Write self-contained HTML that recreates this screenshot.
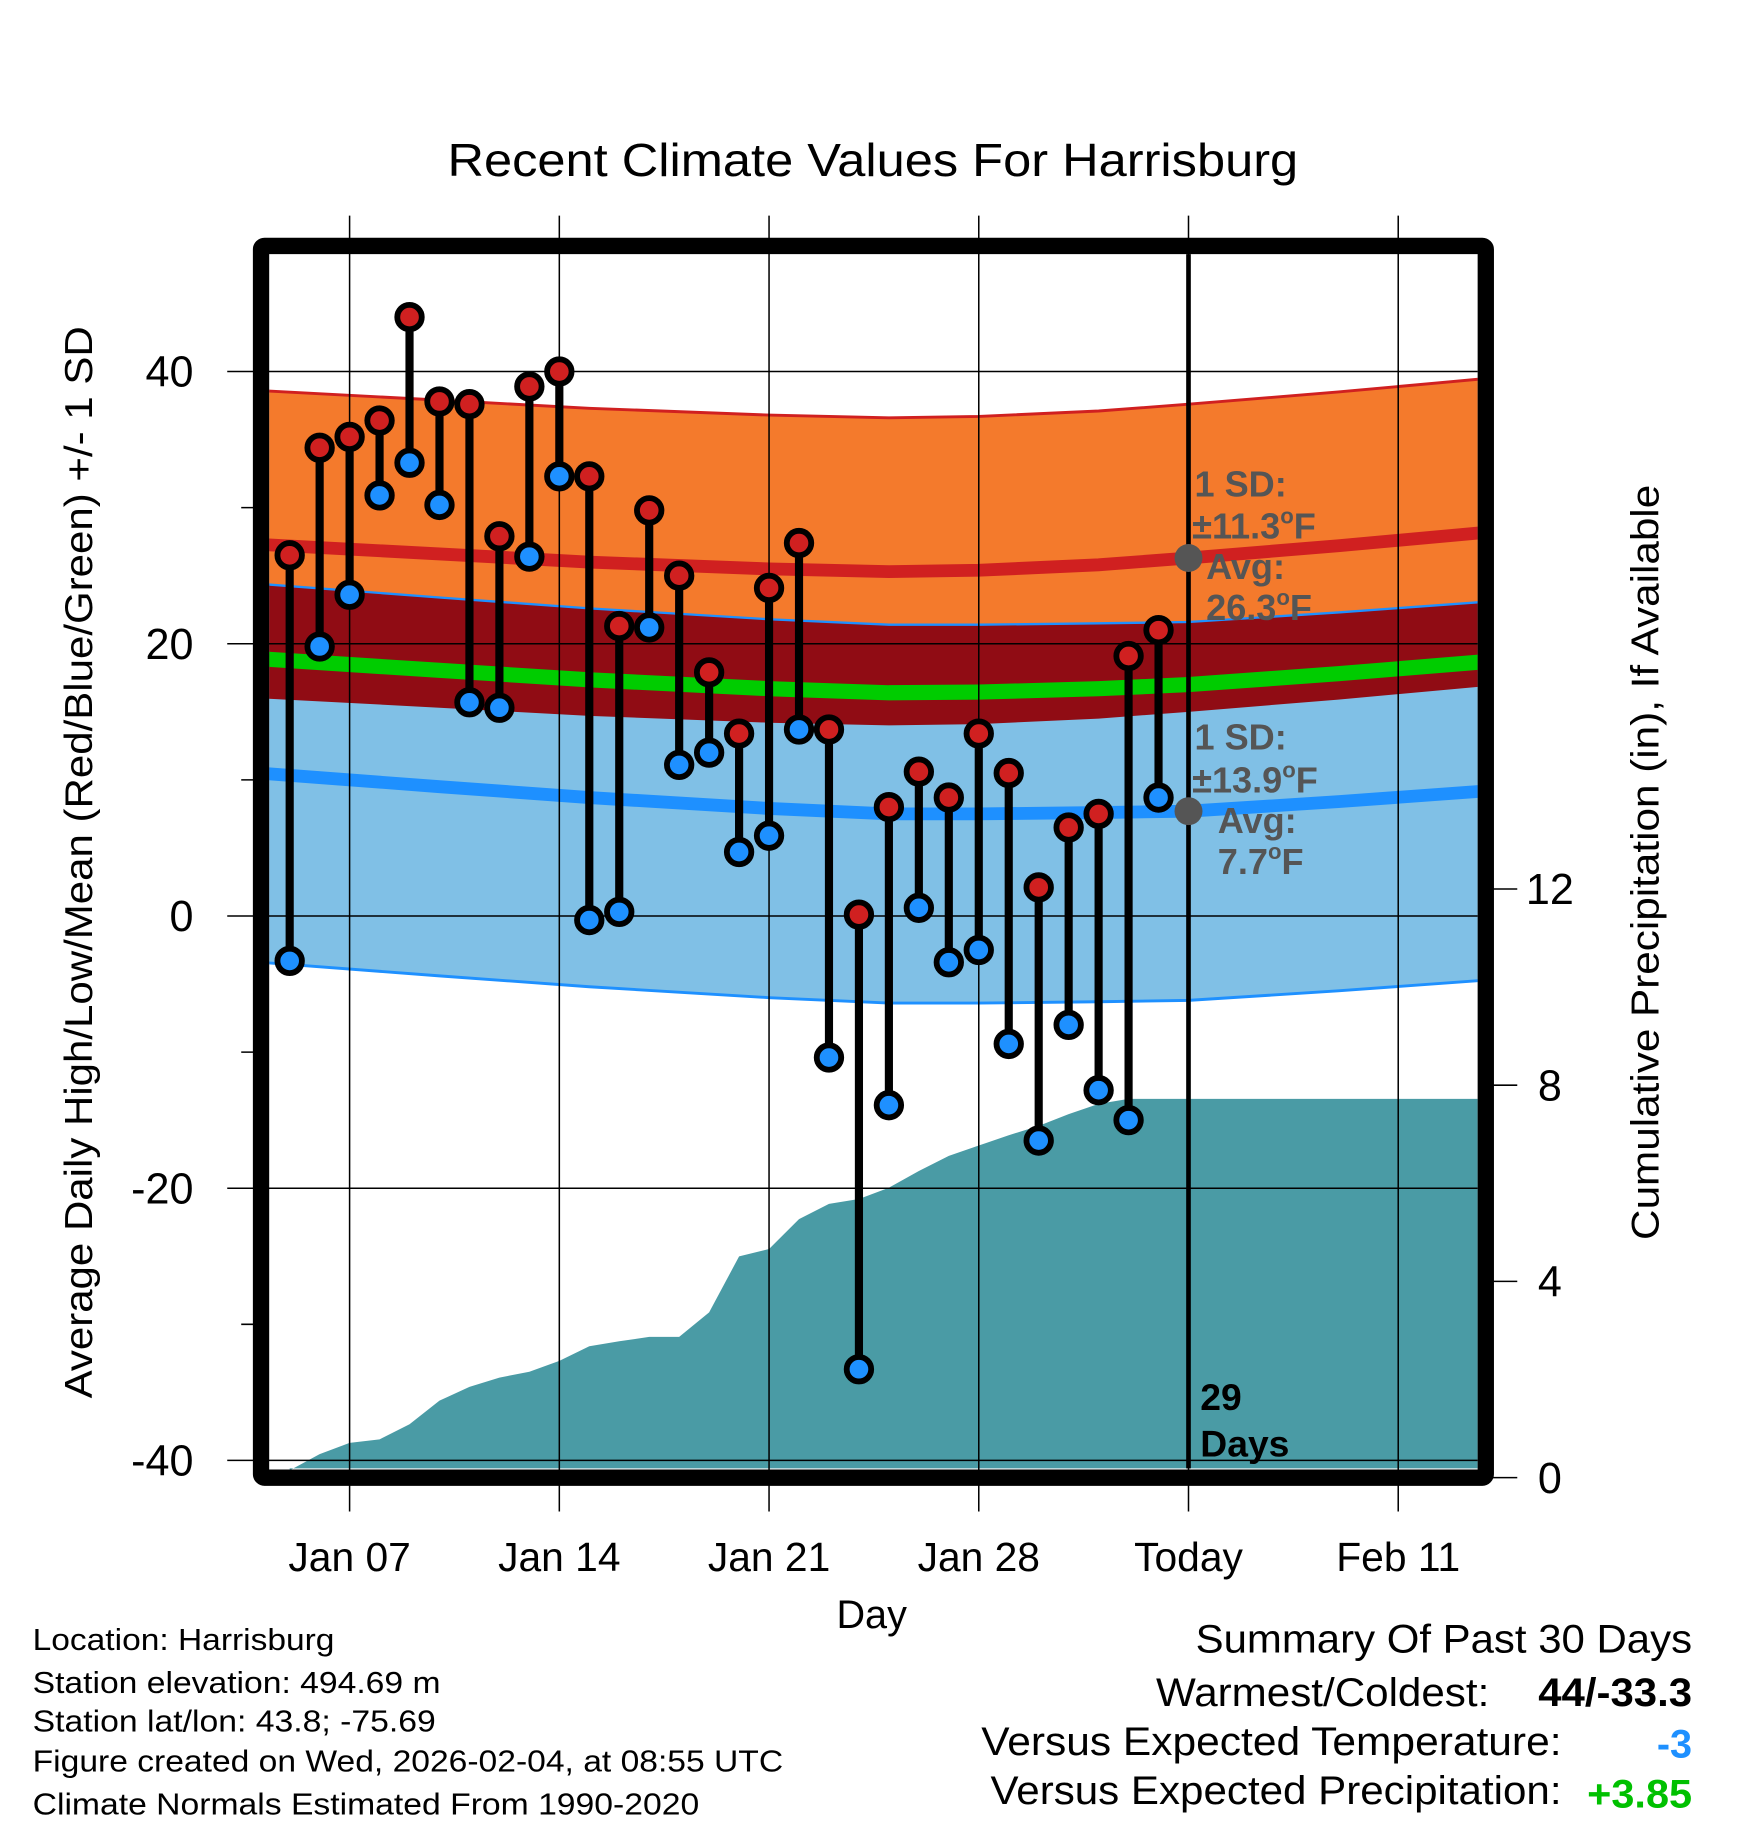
<!DOCTYPE html>
<html><head><meta charset="utf-8"><style>
html,body{margin:0;padding:0;background:#fff}
svg{display:block;font-family:"Liberation Sans",Arial,sans-serif}
</style></head><body>
<svg id="chart" width="1748" height="1828" viewBox="0 0 1500 1568.6" xmlns="http://www.w3.org/2000/svg">
<rect width="1500" height="1568.6" fill="#fff"/>
<g id="bands"></g>
<g id="precip"></g>
<g id="grid"></g>
<g id="marks"></g>
<g id="axes"></g>
<g id="texts">
<text x="749" y="151" font-size="40" text-anchor="middle" textLength="730" lengthAdjust="spacingAndGlyphs">Recent Climate Values For Harrisburg</text>
<text transform="translate(79,740) rotate(-90)" font-size="33" text-anchor="middle" textLength="920" lengthAdjust="spacingAndGlyphs">Average Daily High/Low/Mean (Red/Blue/Green) +/- 1 SD</text>
<text transform="translate(1423,740) rotate(-90)" font-size="33" text-anchor="middle" textLength="648" lengthAdjust="spacingAndGlyphs">Cumulative Precipitation (in), If Available</text>
<text x="748" y="1397" font-size="34" text-anchor="middle">Day</text>
<g fill="#555" font-weight="bold" font-size="31">
<text x="1025" y="426">1 SD:</text>
<text x="1023" y="462">±11.3<tspan font-size="19" dy="-13">o</tspan><tspan dy="13">F</tspan></text>
<text x="1035" y="497">Avg:</text>
<text x="1035" y="532">26.3<tspan font-size="19" dy="-13">o</tspan><tspan dy="13">F</tspan></text>
<text x="1025" y="643">1 SD:</text>
<text x="1023" y="680">±13.9<tspan font-size="19" dy="-13">o</tspan><tspan dy="13">F</tspan></text>
<text x="1045" y="715">Avg:</text>
<text x="1045" y="750">7.7<tspan font-size="19" dy="-13">o</tspan><tspan dy="13">F</tspan></text>
</g>
<text x="1030" y="1210" font-size="32" font-weight="bold">29</text>
<text x="1030" y="1250" font-size="32" font-weight="bold">Days</text>
<g font-size="26">
<text x="28" y="1416" textLength="259" lengthAdjust="spacingAndGlyphs">Location: Harrisburg</text>
<text x="28" y="1453" textLength="350" lengthAdjust="spacingAndGlyphs">Station elevation: 494.69 m</text>
<text x="28" y="1486" textLength="346" lengthAdjust="spacingAndGlyphs">Station lat/lon: 43.8; -75.69</text>
<text x="28" y="1520" textLength="644" lengthAdjust="spacingAndGlyphs">Figure created on Wed, 2026-02-04, at 08:55 UTC</text>
<text x="28" y="1557" textLength="572" lengthAdjust="spacingAndGlyphs">Climate Normals Estimated From 1990-2020</text>
</g>
<g font-size="34" text-anchor="end">
<text x="1452" y="1418" textLength="426" lengthAdjust="spacingAndGlyphs">Summary Of Past 30 Days</text>
<text x="1278" y="1464" textLength="286" lengthAdjust="spacingAndGlyphs">Warmest/Coldest:</text>
<text x="1452" y="1464" font-weight="bold" textLength="132" lengthAdjust="spacingAndGlyphs">44/-33.3</text>
<text x="1340" y="1506" textLength="498" lengthAdjust="spacingAndGlyphs">Versus Expected Temperature:</text>
<text x="1452" y="1508" font-weight="bold" fill="#1e90ff">-3</text>
<text x="1340" y="1548" textLength="490" lengthAdjust="spacingAndGlyphs">Versus Expected Precipitation:</text>
<text x="1452" y="1551" font-weight="bold" fill="#00c000" textLength="90" lengthAdjust="spacingAndGlyphs">+3.85</text>
</g>
</g>
</svg>
<script>
// day numbers: 1 = Jan 1
const days = [5,6,7,8,9,10,11,12,13,14,15,16,17,18,19,20,21,22,23,24,25,26,27,28,29,30,31,32,33,34];
const highs = [26.5,34.4,35.2,36.4,44,37.8,37.6,27.9,38.9,40,32.3,21.3,29.8,25,17.9,13.4,24.1,27.4,13.7,0.1,8,10.6,8.7,13.4,10.5,2.1,6.5,7.5,19.1,21];
const lows = [-3.3,19.8,23.6,30.9,33.3,30.2,15.7,15.3,26.4,32.3,-0.3,0.3,21.2,11.1,12,4.7,5.9,13.7,-10.4,-33.3,-13.9,0.6,-3.4,-2.5,-9.4,-16.5,-8,-12.8,-15,8.7];
const precip = [0.15,0.48,0.71,0.78,1.09,1.57,1.85,2.04,2.16,2.38,2.68,2.78,2.87,2.87,3.37,4.51,4.66,5.27,5.58,5.68,5.91,6.25,6.56,6.77,6.98,7.17,7.41,7.62,7.72,7.72];
const normDays = [4,10,15,21,25,28,32,35,40,45];
const normHigh = [27.3,26.6,26.0,25.5,25.3,25.4,25.8,26.3,27.2,28.2];
const normLow = [10.5,9.5,8.7,7.9,7.5,7.5,7.6,7.7,8.4,9.2];
const sdHigh = 11.3, sdLow = 13.9;
const yTicks = [-40,-20,0,20,40];
const yMinor = [-30,-10,10,30];
const pTicks = [0,4,8,12];
const xTickDays = [7,14,21,28,35,42];
const xTickLabels = ["Jan 07","Jan 14","Jan 21","Jan 28","Today","Feb 11"];
const todayDay = 35;

const NS="http://www.w3.org/2000/svg";
const L=231,R=1268,T=218,B=1260;
const X=d=>300+(d-7)*25.71;
const Y=v=>786-v*11.68;
const P=p=>1268-p*42.1;
function el(tag,attrs,parent){const e=document.createElementNS(NS,tag);for(const k in attrs)e.setAttribute(k,attrs[k]);parent.appendChild(e);return e;}
const bands=document.getElementById('bands'),grid=document.getElementById('grid'),marks=document.getElementById('marks'),axes=document.getElementById('axes'),pr=document.getElementById('precip');
const clipP=el('clipPath',{id:'plotclip'},document.getElementById('chart'));
el('rect',{x:L,y:T,width:R-L,height:B-T},clipP);
bands.setAttribute('clip-path','url(#plotclip)');
function curve(arr,off){return normDays.map((d,i)=>[X(d),Y(arr[i]+off)]);}
function pts(a){return a.map(p=>p.join(',')).join(' ');}
function area(top,bot,fill,name){const p=el('polygon',{points:pts(top.concat(bot.slice().reverse())),fill:fill},bands);

}
function line(c,stroke,w,name){const p=el('polyline',{points:pts(c),fill:'none',stroke:stroke,'stroke-width':w},bands);

}
area(curve(normHigh,sdHigh),curve(normHigh,-sdHigh),'#f47a2c','high-sd-band');
area(curve(normLow,sdLow),curve(normLow,-sdLow),'#80c0e6','low-sd-band');
area(curve(normLow,sdLow),curve(normHigh,-sdHigh),'#900c14','overlap-band');
line(curve(normHigh,sdHigh),'#d02020',2.5,'high-sd-edge');
line(curve(normLow,sdLow),'#1e90ff',2,'low-sd-top-edge');
line(curve(normLow,-sdLow),'#1e90ff',2.5,'low-sd-edge');
line(curve(normHigh,0),'#d02020',11,'normal-high-line');
line(curve(normLow,0),'#1e90ff',11,'normal-low-line');
line(normDays.map((d,i)=>[X(d),Y((normHigh[i]+normLow[i])/2)]),'#00cc00',13,'normal-mean-line');
// precip
let pp=[[X(days[0]),B]];days.forEach((d,i)=>pp.push([X(d),P(precip[i])]));pp.push([R,P(precip[precip.length-1])]);pp.push([R,B]);
const pa=el('polygon',{points:pts(pp),fill:'#4a9ba5'},pr);


// grid
yTicks.forEach(v=>{const g=el('line',{x1:195,x2:R,y1:Y(v),y2:Y(v),stroke:'#000','stroke-width':1.3},grid);


const t=el('text',{x:166,y:Y(v)+13,'font-size':37,'text-anchor':'end'},axes);t.textContent=v;

});
yMinor.forEach(v=>{el('line',{x1:207,x2:224,y1:Y(v),y2:Y(v),stroke:'#000','stroke-width':1.3},grid);});
xTickDays.forEach((d,i)=>{const g=el('line',{x1:X(d),x2:X(d),y1:185,y2:1297,stroke:'#000','stroke-width':1.3},grid);


const t=el('text',{x:X(d),y:1348,'font-size':35,'text-anchor':'middle'},axes);t.textContent=xTickLabels[i];

});
pTicks.forEach(p=>{el('line',{x1:1275,x2:1302,y1:P(p),y2:P(p),stroke:'#000','stroke-width':1.3},axes);
const t=el('text',{x:1330,y:P(p)+13,'font-size':37,'text-anchor':'middle'},axes);t.textContent=p;

});
// today line
const tl=el('line',{x1:X(todayDay),x2:X(todayDay),y1:T,y2:B,stroke:'#000','stroke-width':4},marks);


[[normHigh[7]],[normLow[7]]].forEach(v=>{const c=el('circle',{cx:X(todayDay),cy:Y(v[0]),r:12,fill:'#555'},marks);

});
// stems & dots
days.forEach((d,i)=>{const s=el('line',{x1:X(d),x2:X(d),y1:Y(highs[i]),y2:Y(lows[i]),stroke:'#000','stroke-width':7},marks);

});
days.forEach((d,i)=>{
const h=el('circle',{cx:X(d),cy:Y(highs[i]),r:10.5,fill:'#d02020',stroke:'#000','stroke-width':5},marks);


const l=el('circle',{cx:X(d),cy:Y(lows[i]),r:10.5,fill:'#1e90ff',stroke:'#000','stroke-width':5},marks);

});
// frame
const fr=el('rect',{x:224,y:211,width:1051,height:1057,fill:'none',stroke:'#000','stroke-width':14,rx:3},axes);


</script>
</body></html>
